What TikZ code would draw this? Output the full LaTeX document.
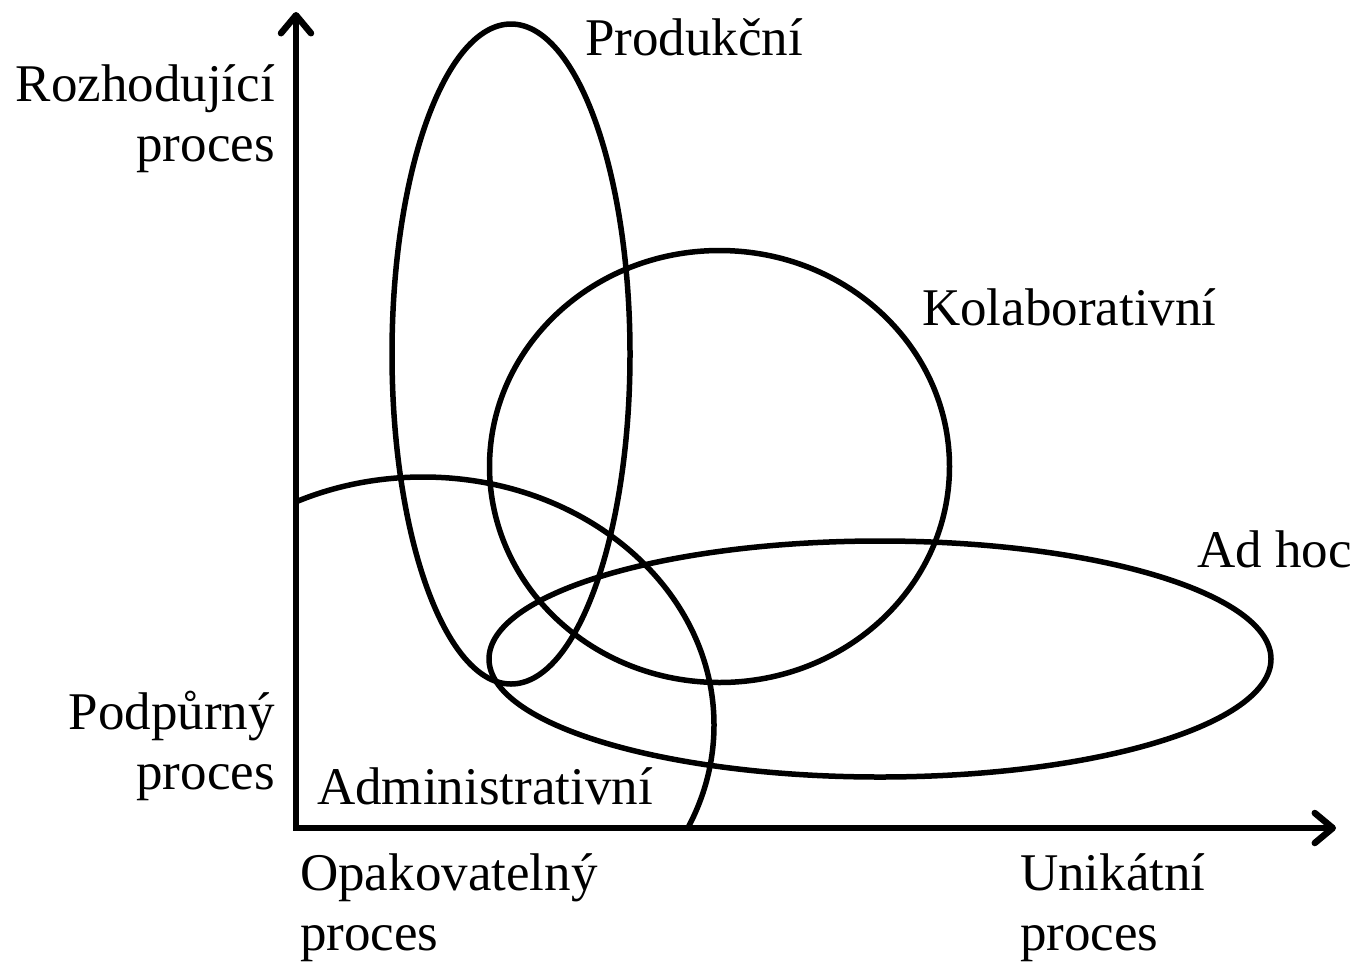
\documentclass[tikz,border=0pt]{standalone}
\usepackage{fontspec}
\setmainfont{Liberation Serif}
\usetikzlibrary{arrows.meta}
\begin{document}
\begin{tikzpicture}[x=1pt,y=-1pt,
  lbl/.style={inner sep=0pt,font=\fontsize{53}{60}\selectfont},
  curve/.style={line width=5.5pt},
  axis/.style={line width=6.5pt,line join=miter,
    arrows={{Straight Barb[length=18pt,width=30pt,line cap=round,line join=round]}-{Straight Barb[length=18pt,width=30pt,line cap=round,line join=round]}}}]
\useasboundingbox (0,0) rectangle (1357,962);
% ellipses
\draw[curve] (511,354) ellipse [x radius=119, y radius=330];
\draw[curve] (719.5,466.5) ellipse [x radius=230, y radius=216];
\draw[curve] (880,659) ellipse [x radius=391, y radius=118];
\begin{scope}
  \clip (296,0) rectangle (1357,828);
  \draw[curve] (423,725) ellipse [x radius=291, y radius=248];
\end{scope}
% axes
\coordinate (ytop) at (296,12);
\coordinate (origin) at (296,828);
\coordinate (xend) at (1336,828);
\draw[axis] (ytop) -- (origin) -- (xend);
% labels
\node[lbl,anchor=base east] (roz1) at (275,101) {Rozhodující};
\node[lbl,anchor=base east] (roz2) at (275,161) {proces};
\node[lbl,anchor=base west] (prod) at (585,55) {Produkční};
\node[lbl,anchor=base west] (kol) at (922,325) {Kolaborativní};
\node[lbl,anchor=base west] (adhoc) at (1197,567) {Ad hoc};
\node[lbl,anchor=base east] (pod1) at (275,729) {Podpůrný};
\node[lbl,anchor=base east] (pod2) at (275,789) {proces};
\node[lbl,anchor=base west] (adm) at (317,804) {Administrativní};
\node[lbl,anchor=base west] (opa1) at (300,890) {Opakovatelný};
\node[lbl,anchor=base west] (opa2) at (300,950) {proces};
\node[lbl,anchor=base west] (uni1) at (1020,890) {Unikátní};
\node[lbl,anchor=base west] (uni2) at (1020,950) {proces};
\end{tikzpicture}
\end{document}
